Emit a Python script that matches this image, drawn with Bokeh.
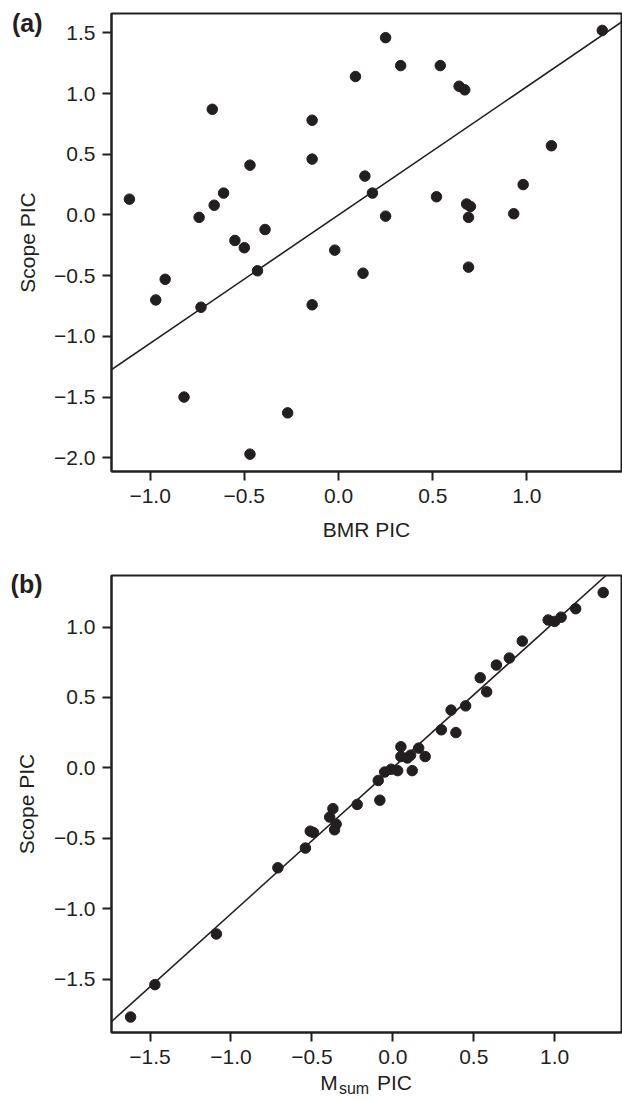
from bokeh.plotting import figure
from bokeh.layouts import column
from bokeh.models import Range1d, FixedTicker, Slope, LinearAxis
from bokeh.embed import file_html
from bokeh.resources import INLINE

# ---------------- data ----------------
# Panel (a): BMR PIC vs Scope PIC
bmr_pic = [-1.11, -0.67, -0.74, -0.66, -0.61, -0.47, -0.55, -0.50, -0.39, -0.43,
           -0.14, -0.14, -0.02, 0.09, 0.25, 0.33, 0.14, 0.18, 0.25, 0.13,
           0.54, 0.64, 0.67, 0.52, 0.68, 0.70, 0.69, 0.69, 0.93, 0.98,
           1.13, 1.40, -0.92, -0.97, -0.73, -0.82, -0.27, -0.47, -0.14]
scope_pic_a = [0.13, 0.87, -0.02, 0.08, 0.18, 0.41, -0.21, -0.27, -0.12, -0.46,
               0.78, 0.46, -0.29, 1.14, 1.46, 1.23, 0.32, 0.18, -0.01, -0.48,
               1.23, 1.06, 1.03, 0.15, 0.09, 0.07, -0.02, -0.43, 0.01, 0.25,
               0.57, 1.52, -0.53, -0.70, -0.76, -1.50, -1.63, -1.97, -0.74]
fit_a = {"slope": 1.057, "intercept": 0.0}

# Panel (b): Msum PIC vs Scope PIC
msum_pic = [1.30, 1.13, 1.04, 0.96, 1.00, 0.80, 0.72, 0.64, 0.54, 0.58,
            0.45, 0.36, 0.30, 0.39, 0.16, 0.05, 0.05, 0.09, 0.11, 0.20,
            0.12, 0.03, -0.01, -0.05, -0.09, -0.08, -0.22, -0.37, -0.39, -0.35,
            -0.36, -0.51, -0.49, -0.54, -0.71, -1.09, -1.47, -1.62]
scope_pic_b = [1.245, 1.13, 1.07, 1.05, 1.04, 0.90, 0.78, 0.73, 0.64, 0.54,
               0.44, 0.41, 0.27, 0.25, 0.14, 0.15, 0.08, 0.07, 0.09, 0.08,
               -0.02, -0.02, -0.01, -0.03, -0.09, -0.23, -0.26, -0.29, -0.35, -0.40,
               -0.44, -0.45, -0.46, -0.57, -0.71, -1.18, -1.54, -1.77]
fit_b = {"slope": 1.037, "intercept": 0.0}

# tick values and labels
a_xticks = [-1.0, -0.5, 0.0, 0.5, 1.0]
a_xlabels = ["\u22121.0", "\u22120.5", "0.0", "0.5", "1.0"]
a_yticks = [-2.0, -1.5, -1.0, -0.5, 0.0, 0.5, 1.0, 1.5]
a_ylabels = ["\u22122.0", "\u22121.5", "\u22121.0", "\u22120.5", "0.0", "0.5", "1.0", "1.5"]
b_xticks = [-1.5, -1.0, -0.5, 0.0, 0.5, 1.0]
b_xlabels = ["\u22121.5", "\u22121.0", "\u22120.5", "0.0", "0.5", "1.0"]
b_yticks = [-1.5, -1.0, -0.5, 0.0, 0.5, 1.0]
b_ylabels = ["\u22121.5", "\u22121.0", "\u22120.5", "0.0", "0.5", "1.0"]

panel_tags = ["(a)", "(b)"]
y_title = "Scope PIC"
a_x_title = "BMR PIC"
b_x_title_parts = ["M", "sum", "PIC"]   # M with subscript "sum", then "PIC"

# ---------------- style ----------------
INK = "#231f20"
FONT = "Liberation Sans"
TICK_FS = "21px"
LABEL_FS = "21px"
FRAME_W = 510


def style(p, xticks, xlabels, yticks, ylabels, xlabel):
    p.grid.visible = False
    p.outline_line_color = INK
    p.outline_line_width = 2
    p.outline_line_alpha = 1.0
    p.background_fill_color = "white"
    p.border_fill_color = "white"
    for ax in (p.xaxis[0], p.yaxis[0]):
        ax.axis_line_color = INK
        ax.axis_line_width = 2
        ax.major_tick_line_color = INK
        ax.major_tick_line_width = 2
        ax.major_tick_out = 9
        ax.major_tick_in = 0
        ax.minor_tick_line_color = None
        ax.major_label_text_font = FONT
        ax.major_label_text_font_size = TICK_FS
        ax.major_label_text_color = INK
        ax.axis_label_text_font = FONT
        ax.axis_label_text_font_size = LABEL_FS
        ax.axis_label_text_font_style = "normal"
        ax.axis_label_text_color = INK
    p.xaxis[0].ticker = FixedTicker(ticks=xticks)
    p.xaxis[0].major_label_overrides = dict(zip(xticks, xlabels))
    p.yaxis[0].ticker = FixedTicker(ticks=yticks)
    p.yaxis[0].major_label_overrides = dict(zip(yticks, ylabels))
    p.xaxis[0].major_label_standoff = 8
    p.xaxis[0].axis_label_standoff = 12
    p.yaxis[0].major_label_standoff = 7
    p.yaxis[0].axis_label = None
    p.xaxis[0].axis_label = xlabel


def text_axis(p, side, ticks, labels, size, standoff, bold=False,
              title=None, title_standoff=0):
    """An outer axis without line or ticks, used to carry outer texts."""
    ax = LinearAxis(ticker=FixedTicker(ticks=ticks),
                    major_label_overrides=dict(zip(ticks, labels)),
                    axis_line_color=None, major_tick_line_color=None,
                    minor_tick_line_color=None, major_tick_out=0, major_tick_in=0,
                    major_label_standoff=standoff,
                    major_label_text_font=FONT, major_label_text_font_size=size,
                    major_label_text_font_style="bold" if bold else "normal",
                    major_label_text_color=INK,
                    axis_label=title, axis_label_standoff=title_standoff,
                    axis_label_text_font=FONT, axis_label_text_font_size=LABEL_FS,
                    axis_label_text_font_style="normal", axis_label_text_color=INK)
    p.add_layout(ax, side)
    return ax


def y_below_top(p, frame_h, px):
    r = p.y_range
    return r.end - px * (r.end - r.start) / frame_h


def x_from_left(p, px):
    r = p.x_range
    return r.start + px * (r.end - r.start) / FRAME_W


# ---------------- panel (a) ----------------
pa = figure(width=622, height=545,
            x_range=Range1d(-1.205, 1.502), y_range=Range1d(-2.113, 1.659),
            output_backend="svg", toolbar_location=None,
            min_border_left=111, min_border_right=1,
            min_border_top=13, min_border_bottom=74)
style(pa, a_xticks, a_xlabels, a_yticks, a_ylabels, a_x_title)
pa.add_layout(Slope(gradient=fit_a["slope"], y_intercept=fit_a["intercept"],
                    line_color=INK, line_width=1.6))
pa.scatter(bmr_pic, scope_pic_a, size=10.5, fill_color=INK, line_color=INK)
text_axis(pa, "left", [y_below_top(pa, 458, 9)], [panel_tags[0]], "25px", 9,
          bold=True, title=y_title, title_standoff=-30)

# ---------------- panel (b) ----------------
pb = figure(width=622, height=556,
            x_range=Range1d(-1.738, 1.413), y_range=Range1d(-1.880, 1.366),
            output_backend="svg", toolbar_location=None,
            min_border_left=111, min_border_right=1,
            min_border_top=30, min_border_bottom=69)
style(pb, b_xticks, b_xlabels, b_yticks, b_ylabels, None)
pb.add_layout(Slope(gradient=fit_b["slope"], y_intercept=fit_b["intercept"],
                    line_color=INK, line_width=1.6))
pb.scatter(msum_pic, scope_pic_b, size=10.5, fill_color=INK, line_color=INK)
text_axis(pb, "left", [y_below_top(pb, 457, 8)], [panel_tags[1]], "25px", 9,
          bold=True, title=y_title, title_standoff=-30)
# x title "M_sum PIC": main-size parts, then the subscript part
text_axis(pb, "below", [x_from_left(pb, 217.5), x_from_left(pb, 283)],
          [b_x_title_parts[0], b_x_title_parts[2]], LABEL_FS, 4)
text_axis(pb, "below", [x_from_left(pb, 242.5)], [b_x_title_parts[1]], "16px", -17)

layout = column(pa, pb)
open("out.html", "w").write(file_html(layout, INLINE))
